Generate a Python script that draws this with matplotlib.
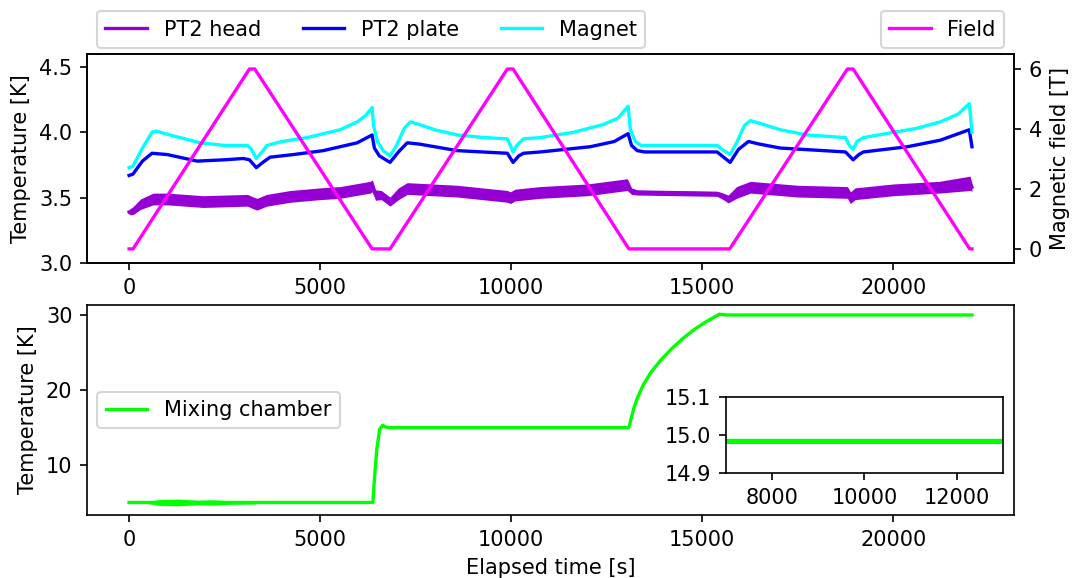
import matplotlib
matplotlib.use("Agg")
import matplotlib.pyplot as plt
import numpy as np

plt.rcParams['font.size'] = 10
plt.rcParams['font.family'] = ['DejaVu Sans']

# ---------------- data ----------------
field_t = [0, 105, 3150, 3290, 6360, 6830, 9900, 10050, 13080, 15720, 18800, 18950, 22000, 22060]
field_B = [0, 0, 6, 6, 0, 0, 6, 6, 0, 0, 6, 6, 0, 0]

magnet_t = [0, 100, 350, 600, 700, 1200, 1860, 2500, 3100, 3200, 3330, 3450, 3610, 4000, 4660,
            5520, 5970, 6200, 6360, 6400, 6500, 6650, 6830, 7000, 7200, 7360, 7600, 8000, 8590,
            9300, 9900, 9980, 10050, 10150, 10320, 10760, 11620, 12410, 12800, 13060, 13120,
            13250, 13400, 15390, 15560, 15730, 15900, 16100, 16260, 16500, 17040, 17750, 18750,
            18850, 18950, 19050, 19220, 20000, 20600, 21230, 21700, 21990, 22030, 22060]
magnet_T = [3.73, 3.74, 3.88, 4.00, 4.01, 3.97, 3.92, 3.90, 3.90, 3.87, 3.80, 3.84, 3.90, 3.93, 3.96,
            4.02, 4.08, 4.13, 4.19, 4.05, 3.93, 3.86, 3.82, 3.90, 4.03, 4.08, 4.06, 4.02, 3.98,
            3.96, 3.95, 3.90, 3.85, 3.90, 3.95, 3.96, 4.00, 4.06, 4.11, 4.20, 4.02,
            3.93, 3.90, 3.90, 3.86, 3.83, 3.92, 4.05, 4.09, 4.07, 4.02, 3.98, 3.96,
            3.90, 3.87, 3.93, 3.96, 4.00, 4.03, 4.08, 4.14, 4.22, 4.10, 4.00]

plate_t = [0, 100, 350, 600, 1000, 1780, 2500, 2990, 3150, 3330, 3500, 3690, 4300, 5080, 5970,
           6360, 6420, 6550, 6830, 7050, 7280, 7600, 8590, 9900, 10050, 10200, 10320, 10760,
           12070, 12700, 13060, 13150, 13300, 13500, 15390, 15730, 15950, 16210, 16500, 17040,
           18750, 18950, 19100, 19220, 20370, 21230, 21990, 22060]
plate_T = [3.67, 3.68, 3.78, 3.84, 3.83, 3.78, 3.79, 3.80, 3.79, 3.73, 3.77, 3.81, 3.83, 3.86, 3.92,
           3.98, 3.88, 3.82, 3.77, 3.85, 3.92, 3.91, 3.86, 3.84, 3.77, 3.82, 3.84, 3.85,
           3.89, 3.93, 3.99, 3.90, 3.86, 3.85, 3.85, 3.77, 3.87, 3.93, 3.91, 3.88,
           3.85, 3.79, 3.83, 3.85, 3.89, 3.94, 4.02, 3.89]

head_t = [0, 100, 300, 630, 1000, 1940, 3100, 3250, 3350, 3600, 4220, 5000, 5520, 6310, 6370,
          6450, 6600, 6830, 7050, 7280, 8590, 9900, 9980, 10100, 10760, 12000, 13040, 13150,
          13300, 15390, 15550, 15680, 15900, 16260, 17500, 18800, 18880, 19000, 20000, 21200,
          22010, 22060]
head_T = [3.39, 3.40, 3.45, 3.49, 3.49, 3.47, 3.48, 3.46, 3.45, 3.48, 3.51, 3.53, 3.54, 3.58, 3.59,
          3.52, 3.52, 3.47, 3.53, 3.57, 3.55, 3.51, 3.50, 3.52, 3.54, 3.56, 3.60, 3.55,
          3.54, 3.53, 3.51, 3.49, 3.54, 3.58, 3.55, 3.54, 3.50, 3.53, 3.56, 3.58,
          3.61, 3.58]
head_spread = [0.02, 0.03, 0.04, 0.045, 0.045, 0.045, 0.045, 0.045, 0.045, 0.045, 0.045, 0.045, 0.045, 0.045, 0.045,
               0.04, 0.035, 0.035, 0.045, 0.045, 0.045, 0.045, 0.045, 0.045, 0.045, 0.045, 0.045, 0.025,
               0.02, 0.02, 0.025, 0.03, 0.045, 0.045, 0.045, 0.045, 0.045, 0.045, 0.045, 0.045,
               0.055, 0.03]

mc_t = [0, 500, 800, 1300, 1800, 2200, 2600, 3300, 3400, 6380, 6420, 6480, 6560, 6640, 6700, 6780,
        13080, 13130, 13200, 13300, 13450, 13650, 13900, 14200, 14500, 14800, 15100, 15450, 15650, 22060]
mc_T = [5.0, 5.0, 5.0, 5.0, 5.0, 5.0, 5.0, 5.0, 5.0, 5.0, 8.0, 12.0, 14.8, 15.3, 15.1, 14.983,
        14.983, 16.0, 17.4, 18.9, 20.6, 22.3, 23.9, 25.5, 26.9, 28.1, 29.1, 30.1, 30.0, 30.0]
mc_spread = [0.05, 0.15, 0.4, 0.45, 0.3, 0.35, 0.25, 0.2, 0.02, 0.02, 0.02, 0.02, 0.02, 0.02, 0.02, 0.02,
             0.02, 0.02, 0.02, 0.02, 0.02, 0.02, 0.02, 0.02, 0.02, 0.02, 0.02, 0.02, 0.02, 0.02]

# ---------------- figure ----------------
fig = plt.figure(figsize=(1072 / 150, 578 / 150), dpi=150)
ax1 = fig.add_axes([0.0812, 0.545, 0.8647, 0.3616])
ax3 = fig.add_axes([0.0812, 0.109, 0.8647, 0.3633])

c_head = '#9400D3'
c_plate = '#0000FF'
c_mag = '#00FFFF'
c_field = '#FF00FF'
c_mc = '#00FF00'
lw = 1.6

ht = np.array(head_t)
hc = np.array(head_T)
hs = np.array(head_spread)
ax1.fill_between(ht, hc - hs, hc + hs, color=c_head, lw=0)
ax1.plot(head_t, head_T, color=c_head, lw=lw, label='PT2 head')
ax1.plot(plate_t, plate_T, color=c_plate, lw=lw, label='PT2 plate')
ax1.plot(magnet_t, magnet_T, color=c_mag, lw=lw, label='Magnet')
ax1.set_ylim(3.0, 4.6)
ax1.set_xlim(-1100, 23160)
ax1.set_yticks([3.0, 3.5, 4.0, 4.5])
ax1.set_ylabel('Temperature [K]')
ax1.legend(loc='lower left', bbox_to_anchor=(0.0108, 1.029), ncol=3, borderaxespad=0)

ax2 = ax1.twinx()
ax2.plot(field_t, field_B, color=c_field, lw=lw, label='Field')
ax2.set_ylim(-0.47, 6.5)
ax2.set_yticks([0, 2, 4, 6])
ax2.set_ylabel('Magnetic field [T]')
ax2.legend(loc='lower right', bbox_to_anchor=(0.9892, 1.029), borderaxespad=0)

mt = np.array(mc_t)
mT = np.array(mc_T)
ms = np.array(mc_spread)
ax3.fill_between(mt, mT - ms, mT + ms, color=c_mc, lw=0)
ax3.plot(mc_t, mc_T, color=c_mc, lw=lw, label='Mixing chamber')
ax3.set_xlim(-1100, 23160)
ax3.set_ylim(3.33, 31.33)
ax3.set_yticks([10, 20, 30])
ax3.set_ylabel('Temperature [K]')
ax3.set_xlabel('Elapsed time [s]')
ax3.legend(loc='center left')

axin = fig.add_axes([0.6772, 0.1817, 0.2584, 0.1315])
axin.plot(mc_t, mc_T, color=c_mc, lw=2.5)
axin.set_xlim(7000, 13000)
axin.set_ylim(14.9, 15.1)
axin.set_yticks([14.9, 15.0, 15.1])
axin.set_xticks([8000, 10000, 12000])

fig.savefig('out.png', dpi=150)
